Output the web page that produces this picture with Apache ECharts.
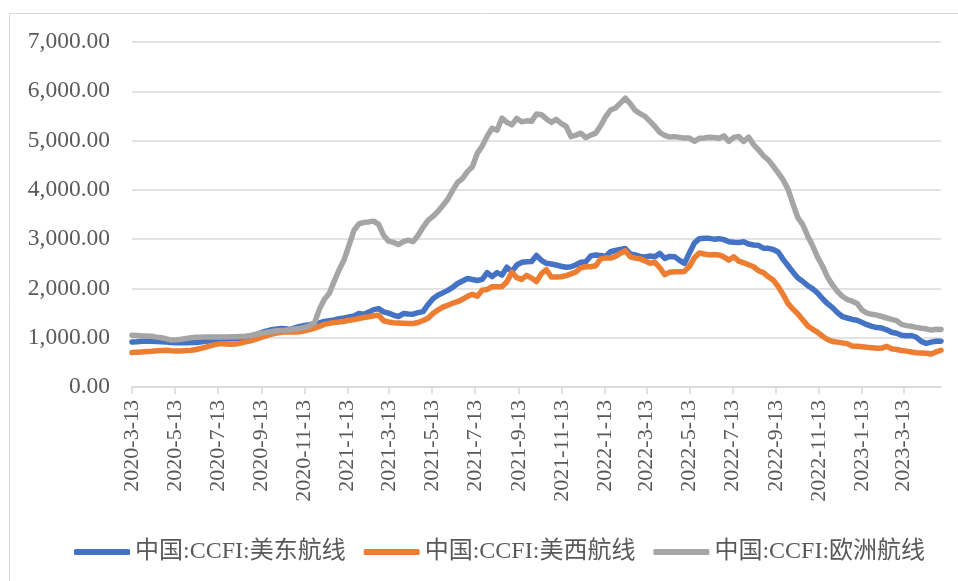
<!DOCTYPE html>
<html>
<head>
<meta charset="utf-8">
<script src="https://cdn.jsdelivr.net/npm/echarts@6/dist/echarts.min.js"></script>
<style>
    html, body { margin: 0; padding: 0; background: #fff; }
    #chart { width: 958px; height: 581px; }
</style>
</head>
<body>
<div id="chart"></div>
<script>
// weekly CCFI readings, every Friday from 2020-3-13
const startDate = "2020-03-13";
const seriesNames = ["中国:CCFI:美东航线", "中国:CCFI:美西航线", "中国:CCFI:欧洲航线"];

const usEast = [
    915, 920, 930, 935, 930, 925, 918, 912, 905, 900,
    900, 898, 902, 905, 915, 930, 945, 955, 965, 972,
    980, 985, 995, 1000, 1020, 1050, 1095, 1130, 1155, 1170,
    1185, 1180, 1165, 1200, 1230, 1250, 1265, 1285, 1300, 1330,
    1345, 1360, 1385, 1400, 1420, 1440, 1490, 1475, 1520, 1570,
    1590, 1525, 1500, 1460, 1430, 1490, 1480, 1478, 1510, 1530,
    1670, 1790, 1860, 1910, 1960, 2020, 2100, 2150, 2200, 2180,
    2160, 2185, 2320, 2240, 2320, 2270, 2430, 2340, 2475, 2530,
    2541, 2545, 2670, 2570, 2510, 2495, 2475, 2450, 2430, 2440,
    2480, 2530, 2541, 2660, 2677, 2670, 2650, 2745, 2770, 2790,
    2810, 2700, 2680, 2650, 2640, 2657, 2643, 2711, 2610, 2650,
    2645, 2570, 2510, 2720, 2920, 3010, 3016, 3016, 3000, 3010,
    2990, 2948, 2935, 2930, 2948, 2900, 2880, 2875, 2815, 2813,
    2790, 2740, 2590, 2460, 2330, 2210, 2140, 2055, 1990, 1905,
    1790, 1690, 1610, 1510, 1430, 1400, 1370, 1356, 1310, 1265,
    1230, 1205, 1195, 1160, 1110, 1090, 1050, 1040, 1045, 1010,
    925, 885, 910, 928, 930
];

const usWest = [
    700, 705, 712, 720, 725, 735, 740, 745, 735, 730,
    732, 740, 745, 760, 785, 810, 840, 865, 880, 872,
    865, 870, 890, 915, 935, 965, 1000, 1030, 1065, 1090,
    1105, 1115, 1115, 1118, 1120, 1140, 1165, 1195, 1230, 1270,
    1290, 1310, 1320, 1335, 1355, 1370, 1390, 1410, 1425, 1445,
    1455, 1345, 1320, 1305, 1300, 1295, 1290, 1289, 1310, 1350,
    1395, 1490, 1560, 1620, 1660, 1700, 1730, 1780, 1840, 1880,
    1840, 1966, 1980, 2033, 2035, 2033, 2135, 2330, 2220, 2183,
    2265, 2210, 2140, 2300, 2380, 2230, 2230, 2236, 2260, 2295,
    2335, 2420, 2440, 2440, 2460, 2600, 2620, 2615, 2650, 2711,
    2765, 2643, 2615, 2600, 2560, 2510, 2530, 2420, 2280, 2330,
    2338, 2338, 2345, 2450, 2620, 2720, 2698, 2680, 2690, 2680,
    2640, 2575, 2643, 2555, 2520, 2480, 2440, 2360, 2320, 2236,
    2169, 2040, 1875, 1690, 1580, 1480, 1360, 1240, 1170, 1110,
    1030, 965, 925, 910, 895, 880, 834, 825, 815, 805,
    798, 785, 790, 825, 775, 762, 740, 728, 710, 695,
    691, 685, 668, 712, 746
];

const europe = [
    1050, 1045, 1038, 1034, 1028, 1012, 1000, 975, 952, 958,
    970, 985, 1000, 1008, 1012, 1016, 1017, 1017, 1017, 1016,
    1018, 1020, 1025, 1031, 1045, 1065, 1085, 1100, 1120, 1135,
    1145, 1150, 1160, 1175, 1187, 1210, 1240, 1300, 1580, 1780,
    1900, 2150, 2380, 2580, 2880, 3180, 3310, 3340, 3350, 3365,
    3300, 3080, 2960, 2935, 2890, 2950, 2980, 2950, 3080, 3240,
    3380, 3460, 3560, 3680, 3810, 3990, 4150, 4230, 4370, 4470,
    4744, 4890, 5090, 5250, 5210, 5456, 5370, 5320, 5450, 5380,
    5400, 5390, 5540, 5525, 5440, 5370, 5430, 5350, 5290, 5080,
    5110, 5150, 5060, 5110, 5150, 5300, 5480, 5620, 5660, 5760,
    5860, 5750, 5612, 5545, 5490, 5390, 5286, 5164, 5103, 5072,
    5080, 5065, 5050, 5050, 4985, 5045, 5052, 5068, 5062, 5048,
    5095, 4985, 5065, 5083, 4982, 5070, 4920, 4812, 4690, 4609,
    4480, 4345, 4202, 4010, 3710, 3430, 3290, 3060, 2860, 2630,
    2450, 2230, 2070, 1940, 1840, 1775, 1742, 1695, 1560, 1500,
    1475, 1458, 1430, 1400, 1372, 1345, 1270, 1245, 1232, 1210,
    1192, 1180, 1155, 1172, 1167
];

const yTicks = [0, 1000, 2000, 3000, 4000, 5000, 6000, 7000];
const labelMonths = [1, 3, 5, 7, 9, 11];
const labelDay = 13;

// daily date axis, like excel's date axis
const days = [];
const d0 = new Date(startDate + "T00:00:00Z");
const lastDay = (usEast.length - 1) * 7;
for (let i = 0; i <= lastDay; i++) {
    const d = new Date(d0.getTime() + i * 86400000);
    days.push(d.getUTCFullYear() + "-" + (d.getUTCMonth() + 1) + "-" + d.getUTCDate());
}

function isLabelDay(idx, value) {
    const p = value.split("-");
    return +p[2] === labelDay && labelMonths.indexOf(+p[1]) >= 0;
}

function weekly(arr) {
    return arr.map((v, i) => [i * 7, v]);
}

const font = '"Liberation Serif", "Times New Roman", "Noto Sans CJK SC"';
const textColor = "#595959";
const gridColor = "#d9d9d9";

const myChart = echarts.init(document.getElementById("chart"));

const lineSeries = (name, arr, color) => ({
    name: name,
    type: "line",
    data: weekly(arr),
    showSymbol: false,
    symbol: "none",
    connectNulls: true,
    lineStyle: { width: 5.5, color: color, cap: "round", join: "round" },
    itemStyle: { color: color },
});

const option = {
    animation: false,
    backgroundColor: "#fff",
    textStyle: { fontFamily: font },
    graphic: [{
        type: "rect",
        shape: { x: 9.5, y: 13.5, width: 1000, height: 700 },
        style: { fill: "none", stroke: gridColor, lineWidth: 1 },
        silent: true,
    }],
    grid: { left: 132, right: 17, top: 42, bottom: 194 },
    legend: {
        left: 74,
        top: 540,
        padding: 0,
        itemWidth: 56,
        itemHeight: 6,
        itemGap: 18,
        icon: "roundRect",
        textStyle: { color: textColor, fontSize: 24, fontFamily: font },
        data: seriesNames,
    },
    xAxis: {
        type: "category",
        data: days,
        boundaryGap: false,
        axisLine: { lineStyle: { color: gridColor, width: 1.5 } },
        axisTick: { show: true, interval: isLabelDay, length: 7, lineStyle: { color: gridColor, width: 1.5 } },
        axisLabel: {
            interval: isLabelDay,
            rotate: 90,
            margin: 13,
            color: textColor,
            fontSize: 22,
            fontFamily: font,
        },
        splitLine: { show: false },
    },
    yAxis: {
        type: "value",
        min: yTicks[0],
        max: yTicks[yTicks.length - 1],
        interval: 1000,
        axisLine: { show: false },
        axisTick: { show: false },
        axisLabel: {
            margin: 22,
            color: textColor,
            fontSize: 23.5,
            fontFamily: font,
            formatter: (v) => v.toLocaleString("en-US", { minimumFractionDigits: 2, maximumFractionDigits: 2 }),
        },
        splitLine: { lineStyle: { color: gridColor, width: 1.5 } },
    },
    series: [
        lineSeries(seriesNames[0], usEast, "#4472C4"),
        lineSeries(seriesNames[1], usWest, "#ED7D31"),
        lineSeries(seriesNames[2], europe, "#A5A5A5"),
    ],
};

option && myChart.setOption(option);
</script>
</body>
</html>
